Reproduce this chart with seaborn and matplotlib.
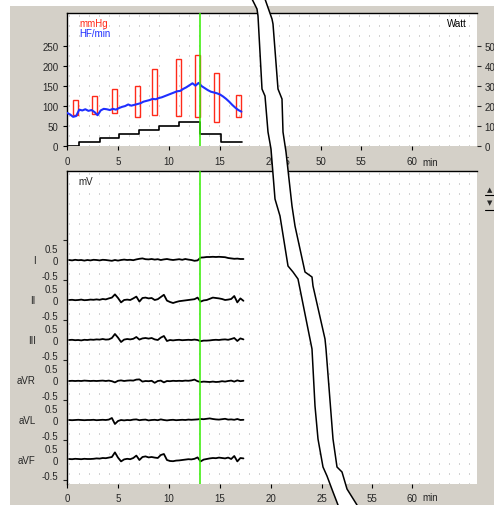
import numpy as np
import matplotlib
matplotlib.use("Agg")
import matplotlib.pyplot as plt
import seaborn as sns
from matplotlib.patches import Rectangle, Polygon
from matplotlib.lines import Line2D

# ---- data ----
# blood pressure boxes (mmHg)
bp_time = [0.8, 2.7, 4.7, 6.9, 8.6, 10.9, 12.8, 14.7, 16.8]
bp_sys = [113, 124, 142, 149, 192, 217, 228, 183, 127]
bp_dia = [76, 80, 82, 72, 76, 74, 72, 59, 72]

# heart rate (HF/min), sampled every 0.3 min
hr_time = np.round(np.arange(0, 58) * 0.3, 2)
hr = [82, 78, 72, 74, 90, 88, 91, 87, 89, 84,
      76, 88, 92, 91, 89, 92, 90, 94, 97, 99,
      103, 100, 102, 104, 106, 110, 112, 114, 117, 116,
      119, 121, 124, 127, 130, 133, 136, 137, 142, 146,
      151, 156, 150, 157, 149, 144, 139, 135, 133, 131,
      128, 123, 117, 110, 102, 95, 89, 85]

# load (Watt)
load_time = [0, 1.2, 3.2, 5.1, 7.1, 9.0, 11.0, 13.0, 15.1, 17.2]
load_watt = [0, 20, 40, 60, 80, 100, 120, 60, 20, 20]

# ECG ST level per lead (mV), sampled every 0.3 min from 0.2 min
ecg_time = np.round(0.2 + np.arange(0, 58) * 0.3, 2)
lead_names = ["I", "II", "III", "aVR", "aVL", "aVF"]
lead_I = [0.00, -0.02, 0.01, -0.01, 0.00, -0.03, 0.00, -0.02, 0.01, 0.00,
          -0.02, 0.01, 0.00, -0.02, -0.04, 0.00, -0.03, 0.00, 0.02, 0.00,
          0.01, -0.01, 0.03, 0.06, 0.08, 0.04, 0.03, 0.05, 0.02, 0.04,
          0.00, 0.03, 0.05, 0.02, 0.00, 0.02, 0.04, 0.01, 0.05, 0.02,
          0.00, -0.04, -0.02, 0.12, 0.13, 0.15, 0.15, 0.16, 0.15, 0.16,
          0.15, 0.14, 0.10, 0.08, 0.06, 0.07, 0.05, 0.05]
lead_II = [0.00, 0.01, -0.01, 0.00, 0.02, -0.01, 0.00, 0.02, 0.01, 0.03,
           0.01, 0.05, 0.03, 0.08, 0.12, 0.28, 0.10, -0.12, 0.00, 0.02,
           0.00, 0.08, 0.17, -0.08, 0.10, 0.12, 0.08, 0.10, 0.00, 0.04,
           0.15, 0.26, -0.03, -0.10, -0.15, -0.10, -0.06, -0.04, -0.02, 0.00,
           0.02, 0.04, 0.12, -0.08, -0.02, 0.00, 0.06, 0.12, 0.10, 0.08,
           0.05, 0.00, 0.02, 0.05, 0.20, -0.12, 0.08, -0.04]
lead_III = [0.00, 0.01, -0.01, 0.00, -0.02, 0.01, 0.00, 0.02, 0.01, 0.03,
            0.02, 0.05, 0.02, 0.03, 0.10, 0.30, 0.12, -0.10, 0.02, 0.05,
            0.03, 0.06, 0.15, 0.02, 0.08, 0.10, 0.07, 0.10, 0.03, 0.00,
            0.12, 0.20, -0.05, 0.00, -0.02, 0.00, 0.01, -0.01, 0.00, 0.01,
            0.00, 0.02, 0.00, -0.06, -0.03, -0.03, -0.02, 0.00, 0.01, 0.00,
            0.02, 0.03, 0.01, 0.05, 0.10, -0.05, 0.08, 0.03]
lead_aVR = [-0.05, -0.04, -0.05, -0.04, -0.05, -0.03, -0.04, -0.05, -0.04, -0.05,
            -0.04, -0.03, -0.05, -0.03, -0.06, -0.12, -0.04, -0.02, -0.05, -0.03,
            -0.02, -0.03, 0.02, 0.03, -0.08, -0.05, -0.06, -0.04, -0.14, -0.05,
            -0.03, -0.12, -0.05, -0.06, -0.04, -0.05, -0.04, -0.05, -0.03, -0.04,
            -0.02, 0.02, -0.06, -0.10, -0.08, -0.09, -0.10, -0.08, -0.10, -0.09,
            -0.06, -0.08, -0.05, -0.03, -0.08, -0.02, -0.06, -0.04]
lead_aVL = [0.00, -0.01, 0.00, 0.01, 0.00, -0.01, 0.00, 0.00, 0.01, -0.01,
            0.00, 0.01, 0.00, 0.02, 0.10, -0.20, -0.05, 0.00, -0.02, 0.00,
            -0.01, 0.02, 0.03, -0.01, 0.01, 0.02, -0.02, 0.00, 0.01, -0.01,
            0.03, 0.00, -0.02, 0.00, 0.01, -0.01, 0.00, 0.01, 0.00, 0.02,
            0.01, 0.02, 0.03, 0.05, 0.04, 0.06, 0.08, 0.05, 0.03, 0.02,
            0.04, 0.06, 0.02, 0.03, 0.01, 0.05, 0.00, 0.01]
lead_aVF = [0.05, 0.04, 0.06, 0.05, 0.04, 0.06, 0.05, 0.05, 0.06, 0.08,
            0.07, 0.10, 0.09, 0.12, 0.15, 0.38, 0.12, -0.07, 0.03, 0.06,
            0.04, 0.10, 0.22, 0.00, 0.15, 0.18, 0.13, 0.15, 0.12, 0.10,
            0.25, 0.30, 0.00, -0.05, -0.06, -0.03, -0.02, 0.00, 0.02, 0.04,
            0.03, 0.06, 0.13, -0.07, 0.02, 0.05, 0.08, 0.10, 0.09, 0.12,
            0.10, 0.08, 0.12, 0.05, 0.20, -0.07, 0.10, 0.08]
leads = [lead_I, lead_II, lead_III, lead_aVR, lead_aVL, lead_aVF]
lead_offset = [0, -2, -4, -6, -8, -10]

marker_time = 13.0

# axis ticks (the time axis is broken between 20 and 45 min)
top_tick_pos = [0, 5, 10, 15, 20, 21.4, 24.9, 28.8, 33.8]
top_tick_lab = ["0", "5", "10", "15", "20", "45", "50", "55", "60"]
bot_tick_pos = [0, 5, 10, 15, 20, 25, 29.9, 33.8]
bot_tick_lab = ["0", "5", "10", "15", "20", "25", "55", "60"]
watt_ticks = [0, 100, 200, 300, 400, 500]

# ---- style ----
sns.set_style("ticks")
plt.rcParams["font.family"] = ["Liberation Sans", "DejaVu Sans"]
plt.rcParams["font.size"] = 7

W, H = 494, 506
GRAY = "#d4d0c8"
fig = plt.figure(figsize=(W / 100, H / 100), dpi=100, facecolor="white")


def fx(px):
    return px / W


def fy(py):
    return 1 - py / H


fig.add_artist(Rectangle((fx(10), 0), 1 - fx(10), fy(7), transform=fig.transFigure,
                         facecolor=GRAY, edgecolor="none", zorder=-5))

ax1 = fig.add_axes([fx(67), fy(147), 410 / W, 133 / H])
ax2 = fig.add_axes([fx(67), fy(485), 410 / W, 313 / H])

grid_x = np.arange(0.2, 40.2, 0.98)
for ax in (ax1, ax2):
    ax.set_facecolor("white")
    ax.set_xlim(0, 40.2)
    for s in ("right", "bottom"):
        ax.spines[s].set_visible(False)
    for s in ("top", "left"):
        ax.spines[s].set_color("black")
        ax.spines[s].set_linewidth(1)
    ax.set_xticks(grid_x, minor=True)
    ax.tick_params(axis="x", which="minor", length=0)
    ax.grid(which="minor", axis="x", color="#a8a8a8", linewidth=0.72,
            linestyle=(0, (1, 9)))
    ax.tick_params(axis="both", which="major", direction="out", length=2.8,
                   width=0.8, color="black", labelsize=7, pad=3.5)

# ---- top panel ----
ax1.set_ylim(-1, 332)
ax1.set_yticks([0, 50, 100, 150, 200, 250])
ax1.set_xticks(top_tick_pos, top_tick_lab)
ax1.tick_params(axis="x", pad=4.5)

ax1.bar(bp_time, np.array(bp_sys) - np.array(bp_dia), bottom=bp_dia, width=0.5,
        fill=False, edgecolor="#ff2a1a", linewidth=1.0, zorder=3)
sns.lineplot(x=hr_time, y=hr, ax=ax1, color="#1f2fff", linewidth=1.5, zorder=4)

ax1r = ax1.twinx()
ax1r.set_ylim(-2, 664)
# the Watt scale runs off the right edge of the window, as in the screenshot
ax1r.set_yticks(watt_ticks, [str(w) for w in watt_ticks])
for s in ax1r.spines.values():
    s.set_visible(False)
ax1r.tick_params(axis="y", direction="out", length=2.8, width=0.8, labelsize=7, pad=2.5)
sns.lineplot(x=load_time, y=load_watt, ax=ax1r, color="black", linewidth=1.2,
             drawstyle="steps-post")
ax1r.axvline(marker_time, color="#33ee00", linewidth=1.1, zorder=6)
ax1r.set_xlim(0, 40.2)
ax1r.set_ylabel("")

ax1.text(0.03, 0.925, "mmHg", color="#ff2a1a", transform=ax1.transAxes, va="center")
ax1.text(0.03, 0.85, "HF/min", color="#1f2fff", transform=ax1.transAxes, va="center")
ax1.text(0.976, 0.925, "Watt", color="black", transform=ax1.transAxes,
         va="center", ha="right")
ax1.text(34.8, -0.12, "min", transform=ax1.get_xaxis_transform(), va="center")

# ---- bottom panel (ECG) ----
ax2.set_ylim(-11.2, 4.45)
ypos, ylab = [], []
for off in lead_offset:
    ypos += [off + 0.58, off, off - 0.75]
    ylab += ["0.5", "0", "-0.5"]
ax2.set_yticks(ypos, ylab)
ax2.tick_params(axis="y", which="major", length=0, pad=6.5)
minor_y = sorted(set([o + d for o in lead_offset for d in (1, 0, -1)]))
ax2.set_yticks(minor_y, minor=True)
ax2.tick_params(axis="y", which="minor", direction="out", length=2.8, width=0.8)
ax2.set_xticks(bot_tick_pos, bot_tick_lab)

for name, vals, off in zip(lead_names, leads, lead_offset):
    sns.lineplot(x=ecg_time, y=np.array(vals) + off, ax=ax2, color="black",
                 linewidth=1.3)
    ax2.text(-0.076, off, name, transform=ax2.get_yaxis_transform(),
             ha="right", va="center")
ax2.axvline(marker_time, color="#33ee00", linewidth=1.1, zorder=6)
ax2.text(0.029, 0.969, "mV", transform=ax2.transAxes, va="center")
ax2.text(34.8, -0.042, "min", transform=ax2.get_xaxis_transform(), va="center")
ax2.set_ylabel("")

# ---- axis break band ----
left_edge = [(252, 0), (257, 10), (258, 17), (262, 90), (265, 97), (268, 133),
             (271, 150), (275, 200), (280, 217), (288, 267), (293, 273),
             (298, 280), (310, 340), (312, 350), (315, 407), (318, 440),
             (323, 468), (327, 477), (333, 493), (338, 506)]
right_edge = [(265, 0), (272, 20), (273, 25), (278, 90), (282, 100), (283, 133),
              (286, 153), (292, 207), (295, 227), (305, 273), (312, 278),
              (313, 287), (325, 340), (326, 350), (333, 440), (337, 468),
              (342, 473), (347, 490), (357, 506)]
band = [(fx(x), fy(y)) for x, y in left_edge + right_edge[::-1]]
fig.add_artist(Polygon(band, closed=True, transform=fig.transFigure,
                       facecolor="white", edgecolor="none", zorder=20))
for edge in (left_edge, right_edge):
    fig.add_artist(Line2D([fx(x) for x, y in edge], [fy(y) for x, y in edge],
                          transform=fig.transFigure, color="black",
                          linewidth=1.1, zorder=21))

# scroll control stub at the right edge
fig.text(fx(490), fy(190), "\u25b2", fontsize=5, ha="center", va="center",
         family="DejaVu Sans")
fig.text(fx(490), fy(203), "\u25bc", fontsize=5, ha="center", va="center",
         family="DejaVu Sans")
for yy in (196, 211):
    fig.add_artist(Line2D([fx(485), fx(494)], [fy(yy), fy(yy)],
                          transform=fig.transFigure, color="black", linewidth=0.8))

fig.savefig("out.png", dpi=100, facecolor=fig.get_facecolor())
